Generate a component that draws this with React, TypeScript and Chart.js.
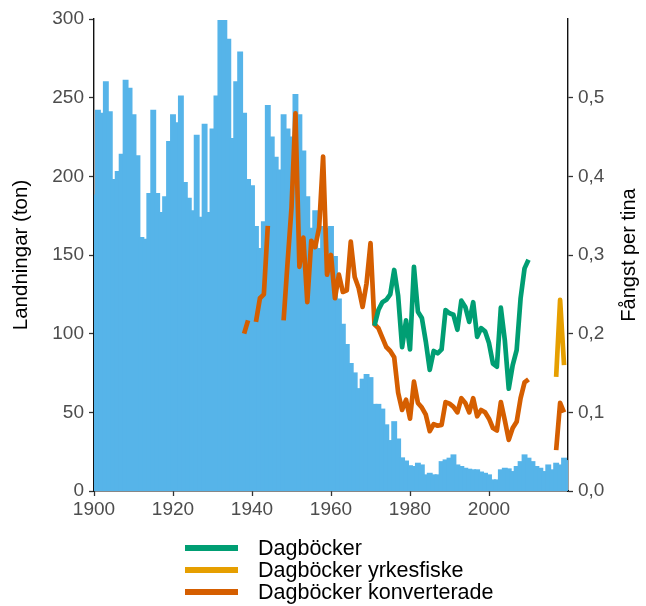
import React, { useEffect, useRef } from "react";
import { Chart, registerables } from "chart.js";

Chart.register(...registerables);

// ---- Data ----
const firstYear = 1900;
// Landningar (ton), 1900..2020
const landings = [
  188, 242, 240, 260, 241, 198, 203, 214, 261, 256,
  239, 213, 161, 160, 189, 242, 189, 177, 187, 222,
  239, 234, 251, 196, 186, 178, 226, 174, 233, 177,
  230, 251, 299, 299, 287, 224, 260, 279, 240, 198,
  194, 168, 154, 171, 245, 225, 212, 204, 239, 230,
  225, 252, 239, 216, 187, 167, 178, 154, 168, 167,
  168, 149, 122, 106, 93, 81, 75, 65, 71, 74,
  72, 55, 55, 52, 42, 32, 44, 33, 21, 19,
  16, 15.5, 17.6, 16.5, 10.2, 11.2, 10.2, 10.2, 18.6, 19.7,
  20.8, 22.9, 16.5, 15.5, 14.4, 13.8, 13.4, 13.4, 12, 11.2,
  10.2, 7, 7, 13.4, 14.4, 14, 12.3, 15.5, 18.6, 22.9,
  20.8, 18.6, 15.5, 14.4, 12.3, 16.5, 13.4, 17.6, 16.5, 20.8,
  19.3,
];

// Dagböcker (fångst per tina), 1971..2010
const dagbockerStart = 1971;
const dagbocker = [
  0.21, 0.23, 0.24, 0.243, 0.25, 0.281, 0.248, 0.183, 0.217, 0.18,
  0.285, 0.228, 0.22, 0.19, 0.154, 0.178, 0.175, 0.18, 0.23, 0.226,
  0.224, 0.205, 0.242, 0.234, 0.215, 0.24, 0.196, 0.207, 0.203, 0.188,
  0.162, 0.158, 0.233, 0.192, 0.13, 0.16, 0.179, 0.245, 0.283, 0.294,
];

// Dagböcker yrkesfiske, 2017..2019
const yrkesfiskeStart = 2017;
const yrkesfiske = [0.145, 0.243, 0.16];

// Dagböcker konverterade, 1938..2019 (null = saknas)
const konvStart = 1938;
const konverterade = [
  0.2, 0.217, null, 0.215, 0.245, 0.25, 0.337, null, null, null,
  0.217, 0.29, 0.36, 0.48, 0.285, 0.322, 0.24, 0.318, 0.31, 0.335,
  0.425, 0.275, 0.3, 0.245, 0.275, 0.253, 0.255, 0.317, 0.272, 0.258,
  0.234, 0.264, 0.315, 0.212, 0.207, 0.195, 0.183, 0.178, 0.17, 0.125,
  0.103, 0.116, 0.092, 0.139, 0.112, 0.106, 0.097, 0.076, 0.085, 0.083,
  0.084, 0.113, 0.111, 0.107, 0.1, 0.118, 0.112, 0.1, 0.118, 0.095,
  0.103, 0.1, 0.092, 0.08, 0.077, 0.113, 0.09, 0.065, 0.08, 0.088,
  0.118, 0.138, 0.142, null, null, null, null, null, null, 0.052,
  0.112, 0.1,
];

const xTickValues = [1900, 1920, 1940, 1960, 1980, 2000];
const legendLabels = ["Dagböcker", "Dagböcker yrkesfiske", "Dagböcker konverterade"];
const legendColors = ["#009E73", "#E69F00", "#D55E00"];

const toPoints = (start: number, arr: (number | null)[]) =>
  arr.map((v, i) => ({ x: start + i, y: v }));

const FONT = '"Liberation Sans", Arial, sans-serif';

export default function App() {
  const ref = useRef<HTMLCanvasElement | null>(null);

  useEffect(() => {
    document.body.style.margin = "0";
    const canvas = ref.current;
    if (!canvas) return;

    const extras = {
      id: "extras",
      afterDraw(chart: any) {
        const ctx = chart.ctx;
        const area = chart.chartArea;
        ctx.save();
        ctx.translate(629, (area.top + area.bottom) / 2);
        ctx.rotate(-Math.PI / 2);
        ctx.font = `20px ${FONT}`;
        ctx.fillStyle = "#000";
        ctx.textAlign = "center";
        ctx.textBaseline = "middle";
        ctx.fillText("Fångst per tina", 0, 0);
        ctx.restore();

        ctx.save();
        legendLabels.forEach((label, i) => {
          const y = 548 + i * 22;
          ctx.strokeStyle = legendColors[i];
          ctx.lineWidth = 6;
          ctx.lineCap = "butt";
          ctx.beginPath();
          ctx.moveTo(185, y);
          ctx.lineTo(238, y);
          ctx.stroke();
          ctx.fillStyle = "#000";
          ctx.font = `21.5px ${FONT}`;
          ctx.textAlign = "left";
          ctx.textBaseline = "middle";
          ctx.fillText(label, 258, y + 1);
        });
        ctx.restore();
      },
    };

    const tickFont = { family: FONT, size: 19 };
    const gridCfg = {
      drawOnChartArea: false,
      drawTicks: true,
      tickLength: 5,
      tickColor: "#333",
      tickWidth: 1.3,
      offset: false,
    };
    const borderCfg = { display: true, color: "#111", width: 1.4 };

    const lineBase = {
      type: "line",
      borderWidth: 4.7,
      pointRadius: 0,
      tension: 0,
      spanGaps: false,
      borderJoinStyle: "round",
      borderCapStyle: "butt",
      yAxisID: "y2",
    };

    const chart = new Chart(canvas, {
      type: "bar",
      data: {
        datasets: [
          {
            ...lineBase,
            label: legendLabels[0],
            data: toPoints(dagbockerStart, dagbocker),
            borderColor: legendColors[0],
            order: 0,
          } as any,
          {
            ...lineBase,
            label: legendLabels[1],
            data: toPoints(yrkesfiskeStart, yrkesfiske),
            borderColor: legendColors[1],
            order: 1,
          } as any,
          {
            ...lineBase,
            label: legendLabels[2],
            data: toPoints(konvStart, konverterade),
            borderColor: legendColors[2],
            order: 2,
          } as any,
          {
            type: "bar",
            label: "Landningar",
            data: landings.map((v, i) => ({ x: firstYear + i, y: v })),
            backgroundColor: "#56B4E9",
            borderWidth: 0,
            borderSkipped: false,
            inflateAmount: 0.6,
            barThickness: 4.7,
            clip: 0,
            yAxisID: "y",
            order: 10,
          } as any,
        ],
      },
      options: {
        animation: false,
        responsive: false,
        devicePixelRatio: 1,
        layout: { padding: { top: 19, bottom: 85, left: 0, right: 0 } },
        plugins: { legend: { display: false }, tooltip: { enabled: false } },
        scales: {
          x: {
            type: "linear",
            min: 1900,
            max: 2020,
            offset: false,
            afterBuildTicks: (s: any) => {
              s.ticks = xTickValues.map((v) => ({ value: v }));
            },
            afterFit: (s: any) => {
              s.height = 30;
            },
            ticks: {
              font: tickFont,
              color: "#4D4D4D",
              padding: 2,
              maxRotation: 0,
              autoSkip: false,
              callback: (v: any) => String(v),
            },
            grid: gridCfg,
            border: borderCfg,
          },
          y: {
            type: "linear",
            position: "left",
            min: 0,
            max: 300,
            afterFit: (s: any) => {
              s.width = 94;
            },
            ticks: { stepSize: 50, font: tickFont, color: "#4D4D4D", padding: 5 },
            grid: gridCfg,
            border: borderCfg,
            title: {
              display: true,
              text: "Landningar (ton)",
              color: "#000",
              font: { family: FONT, size: 20.5 },
              padding: { top: 9, bottom: 0 },
            },
          },
          y2: {
            type: "linear",
            position: "right",
            min: 0,
            max: 0.6,
            afterBuildTicks: (s: any) => {
              s.ticks = s.ticks.filter((t: any) => t.value < 0.55);
            },
            afterFit: (s: any) => {
              s.width = 78;
            },
            ticks: {
              stepSize: 0.1,
              font: tickFont,
              color: "#4D4D4D",
              padding: 5,
              callback: (v: any) => Number(v).toFixed(1).replace(".", ","),
            },
            grid: gridCfg,
            border: borderCfg,
          },
        },
      } as any,
      plugins: [extras],
    });

    return () => chart.destroy();
  }, []);

  return (
    <canvas
      ref={ref}
      width={646}
      height={606}
      style={{ display: "block", width: 646, height: 606 }}
    />
  );
}
